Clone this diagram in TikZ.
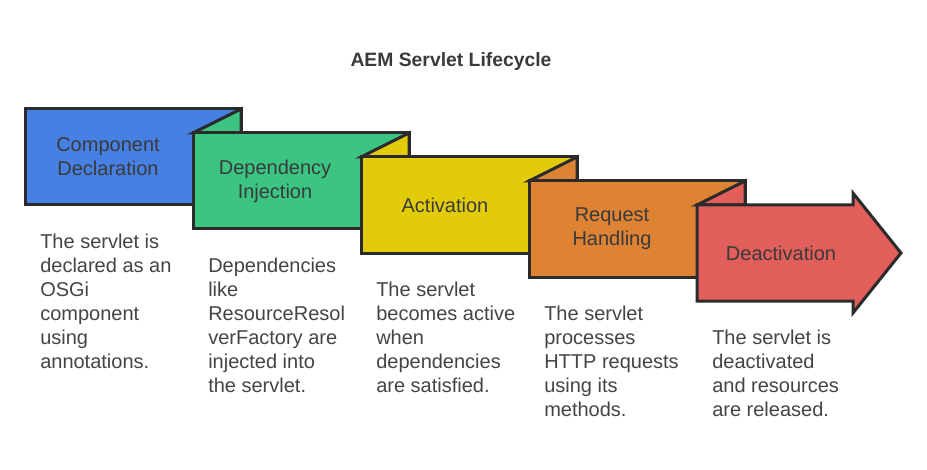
\documentclass[tikz,border=0pt]{standalone}
\usepackage{fontspec}
\setmainfont{Liberation Sans}
\definecolor{cblue}{HTML}{4680E2}
\definecolor{cgreen}{HTML}{3CC483}
\definecolor{cyellow}{HTML}{E2CC0A}
\definecolor{corange}{HTML}{DE8333}
\definecolor{cred}{HTML}{E25E5A}
\definecolor{cline}{HTML}{2B2B2B}
\definecolor{ctext}{HTML}{3A3A3A}
\definecolor{cdesc}{HTML}{444444}
\tikzset{
  blockshape/.style={draw=cline, line width=2.25pt, line join=miter},
  blocklabel/.style={align=center, text=ctext, inner sep=0pt, font=\fontsize{15}{18}\selectfont},
  desc/.style={align=left, anchor=north west, text=cdesc, inner sep=0pt, font=\fontsize{15}{18}\selectfont},
}
\begin{document}
\begin{tikzpicture}[x=0.75pt, y=-0.75pt]
\useasboundingbox (0,0) rectangle (927,470);
\node[font=\bfseries\fontsize{14.5}{17}\selectfont, text=ctext] (title) at (451,62) {AEM Servlet Lifecycle};
% block 1
\draw[blockshape, fill=cblue] (25,109) rectangle (241,205);
% block 2
\draw[blockshape, fill=cgreen] (193,133) -- (241,109) -- (241,133) -- cycle;
\draw[blockshape, fill=cgreen] (193,133) rectangle (409,229);
% block 3
\draw[blockshape, fill=cyellow] (361,157) -- (409,133) -- (409,157) -- cycle;
\draw[blockshape, fill=cyellow] (361,157) rectangle (577,253);
% block 4
\draw[blockshape, fill=corange] (529,181) -- (577,157) -- (577,181) -- cycle;
\draw[blockshape, fill=corange] (529,181) rectangle (745,277);
% block 5
\draw[blockshape, fill=cred] (697,205) -- (745,181) -- (745,205) -- cycle;
\draw[blockshape, fill=cred] (697,205) -- (853,205) -- (853,193) -- (901,253) -- (853,313) -- (853,301) -- (697,301) -- cycle;
% labels
\node[blocklabel] (l1) at (108,157) {Component\\Declaration};
\node[blocklabel] (l2) at (275,181) {Dependency\\Injection};
\node[blocklabel] (l3) at (445,205) {Activation};
\node[blocklabel] (l4) at (612,229) {Request\\Handling};
\node[blocklabel] (l5) at (781,253) {Deactivation};
% descriptions
\node[desc] (d1) at (40,234) {The servlet is\\declared as an\\OSGi\\component\\using\\annotations.};
\node[desc] (d2) at (208,258) {Dependencies\\like\\ResourceResol\\verFactory are\\injected into\\the servlet.};
\node[desc] (d3) at (376,282) {The servlet\\becomes active\\when\\dependencies\\are satisfied.};
\node[desc] (d4) at (544,306) {The servlet\\processes\\HTTP requests\\using its\\methods.};
\node[desc] (d5) at (712,330) {The servlet is\\deactivated\\and resources\\are released.};
\end{tikzpicture}
\end{document}
